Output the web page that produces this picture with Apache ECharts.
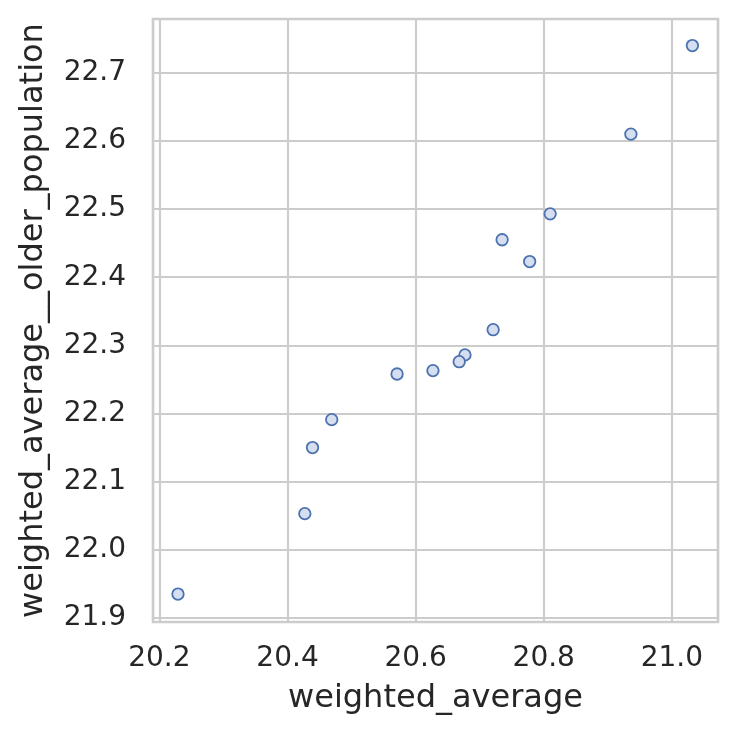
<!DOCTYPE html>
<html>
<head>
<meta charset="utf-8">
<script src="https://cdn.jsdelivr.net/npm/echarts@6/dist/echarts.min.js"></script>
<style>
  html, body { margin: 0; padding: 0; background: #fff; }
  #chart { width: 737px; height: 737px; }
</style>
</head>
<body>
<div id="chart"></div>
<script>
// values
const weightedAverage = [21.032, 20.936, 20.810, 20.735, 20.778, 20.721, 20.677,
  20.668, 20.627, 20.571, 20.469, 20.439, 20.427, 20.229]
const olderPopulation = [22.740, 22.610, 22.493, 22.455, 22.423, 22.323, 22.286,
  22.276, 22.263, 22.258, 22.191, 22.150, 22.053, 21.935]

const xName = 'weighted_average'
const yName = 'weighted_average__older_population'

const points = weightedAverage.map((x, i) => [x, olderPopulation[i]])

const chart = echarts.init(document.getElementById('chart'), null, {
  width: 737,
  height: 737
})

const gridColor = '#cccccc'
const textColor = '#262626'
const fontFamily = 'DejaVu Sans'

chart.setOption({
  animation: false,
  backgroundColor: '#ffffff',
  grid: {
    left: 153,
    right: 19,
    top: 19,
    bottom: 115,
    show: true,
    borderColor: gridColor,
    borderWidth: 2.5
  },
  xAxis: {
    type: 'value',
    min: 20.19,
    max: 21.072,
    splitNumber: 4,
    name: xName,
    nameLocation: 'middle',
    nameGap: 61,
    nameTextStyle: { fontSize: 32, color: textColor, fontFamily },
    axisLine: { show: false },
    axisTick: { show: false },
    axisLabel: {
      fontSize: 28,
      color: textColor,
      fontFamily,
      margin: 23,
      showMinLabel: false,
      showMaxLabel: false,
      formatter: (v) => v.toFixed(1)
    },
    splitLine: { lineStyle: { color: gridColor, width: 2.2 } }
  },
  yAxis: {
    type: 'value',
    min: 21.894,
    max: 22.779,
    splitNumber: 9,
    name: yName,
    nameLocation: 'middle',
    nameGap: 103,
    nameTextStyle: { fontSize: 32, color: textColor, fontFamily },
    axisLine: { show: false },
    axisTick: { show: false },
    axisLabel: {
      fontSize: 28,
      color: textColor,
      fontFamily,
      margin: 27,
      showMinLabel: false,
      showMaxLabel: false,
      formatter: (v) => v.toFixed(1)
    },
    splitLine: { lineStyle: { color: gridColor, width: 2.2 } }
  },
  series: [
    {
      type: 'scatter',
      data: points,
      symbol: 'circle',
      symbolSize: 11.5,
      itemStyle: {
        color: '#d5dff0',
        borderColor: '#4c72b0',
        borderWidth: 1.8,
        opacity: 1
      }
    }
  ]
}, true)
</script>
</body>
</html>
